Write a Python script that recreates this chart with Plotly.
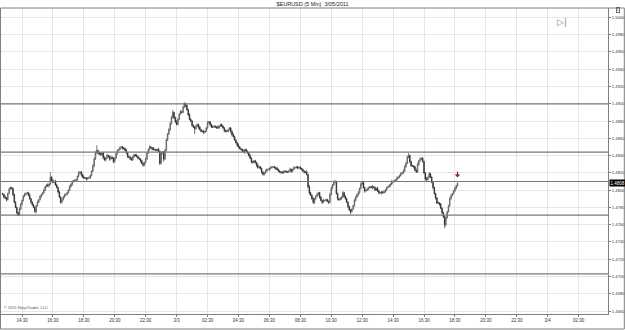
import pandas as pd
import plotly.graph_objects as go

# ---------------- data ----------------
TITLE = "$EURUSD (5 Min)  3/05/2011"
FIRST_BAR = "2011-03-02 13:15"
BAR_FREQ = "5min"
BASE_PRICE = 1.4800          # close values below are pips relative to this price
PIP = 0.0001

first_open_pips = -4
close_pips = [
    -5, -8, -9, -11, -4, 1, 3, 2, -5, -14,
    -20, -26, -29, -22, -16, -12, -7, -5, -4, -3,
    -6, -10, -14, -17, -20, -25, -18, -14, -11, -7,
    -5, -3, 0, 4, 6, 5, 7, 15, 11, 9,
    10, 6, 3, -2, -8, -14, -11, -8, -5, -5,
    -3, 0, 4, 7, 10, 11, 11, 12, 16, 20,
    21, 18, 15, 14, 14, 13, 14, 14, 17, 22,
    28, 36, 43, 46, 43, 42, 41, 43, 38, 35,
    37, 40, 39, 36, 38, 37, 33, 37, 42, 46,
    47, 49, 50, 49, 48, 46, 43, 39, 38, 36,
    35, 39, 41, 40, 39, 37, 36, 34, 31, 29,
    32, 36, 43, 47, 50, 49, 48, 47, 47, 46,
    47, 45, 31, 43, 44, 36, 46, 58, 65, 70,
    77, 84, 90, 84, 79, 76, 82, 88, 91, 90,
    96, 100, 98, 93, 87, 82, 80, 75, 73, 71,
    74, 76, 73, 70, 68, 68, 67, 68, 72, 78,
    79, 76, 73, 73, 74, 73, 73, 72, 74, 76,
    74, 72, 69, 68, 68, 70, 72, 68, 64,
    62, 58, 55, 52, 50, 48, 47, 45, 44, 47,
    45, 43, 40, 37, 33, 32, 34, 32, 29, 26,
    27, 25, 21, 18, 20, 22, 24, 24, 25, 26,
    27, 27, 26, 25, 24, 22, 21, 21, 20, 21,
    22, 21, 21, 22, 24, 22, 24, 26, 26, 27,
    26, 26, 25, 24, 22, 21, 21, 18, 4, -3,
    -6, -10, -14, -10, -7, -5, -3, -8, -12, -14,
    -12, -12, -11, -13, -14, -5, 2, 6, 9, 10,
    -4, -10, -11, -10, -8, -3, -7, -10, -14,
    -19, -23, -25, -22, -18, -12, -8, -5, -3, 2,
    7, 9, 3, -1, 0, 1, 3, 4, 3, 4,
    3, 0, 2, -1, -3, -3, -2, -3, -2, 0,
    3, 4, 5, 7, 10, 10, 11, 12, 14, 15,
    17, 19, 20, 22, 27, 31, 38, 40, 33, 28,
    28, 27, 23, 21, 30, 34, 36, 37, 33, 20,
    13, 12, 15, 19, 15, 9, 3, -4, -9, -15,
    -15, -16, -21, -26, -31, -40, -32, -25, -18, -10,
    -6, -4, -1, 2, 5, 8,
]
# upper / lower wick length of each bar, in pips beyond the body
wick_up_pips = [
    1, 1, 2, 1, 1, 2, 1, 1, 1, 1,   1, 1, 1, 2, 1, 1, 1, 2, 1, 1,
    1, 2, 1, 1, 1, 1, 1, 2, 1, 1,   1, 1, 2, 1, 1, 2, 1, 6, 1, 2,
    1, 2, 1, 1, 1, 1, 2, 1, 1, 1,   1, 1, 2, 1, 1, 1, 2, 1, 1, 2,
    1, 1, 1, 2, 1, 1, 1, 2, 1, 1,   2, 2, 2, 6, 1, 1, 2, 1, 1, 1,
    1, 2, 1, 1, 2, 1, 1, 1, 2, 1,   1, 2, 1, 1, 1, 1, 2, 1, 1, 1,
    2, 1, 1, 1, 2, 1, 1, 1, 1, 1,   1, 2, 1, 1, 2, 1, 1, 2, 1, 1,
    1, 2, 1, 1, 1, 1, 2, 2, 1, 2,   2, 2, 3, 1, 1, 2, 2, 1, 2, 1,
    2, 2, 1, 1, 1, 2, 1, 1, 1, 1,   2, 1, 1, 1, 1, 1, 2, 1, 1, 2,
    1, 1, 1, 2, 1, 1, 1, 2, 1, 1,   1, 1, 1, 1, 2, 1, 1, 1, 1, 2,
    1, 1, 1, 2, 1, 1, 1, 2, 1, 1,   1, 1, 2, 1, 1, 1, 1, 1, 2, 1,
    1, 1, 1, 1, 2, 1, 1, 1, 2, 1,   1, 1, 1, 2, 1, 1, 1, 1, 2, 1,
    1, 1, 1, 2, 1, 1, 2, 1, 1, 1,   1, 2, 1, 1, 1, 1, 2, 1, 2, 1,
    1, 2, 1, 1, 2, 1, 1, 1, 1, 2,   1, 1, 1, 1, 2, 2, 1, 2, 2, 1,
    1, 1, 2, 1, 2, 1, 1, 1, 1, 1,   1, 1, 1, 2, 1, 1, 2, 1, 2, 2,
    1, 1, 1, 2, 1, 1, 1, 2, 1, 1,   1, 2, 1, 1, 1, 1, 2, 1, 1, 1,
    2, 1, 2, 1, 1, 1, 2, 1, 1, 2,   1, 2, 2, 2, 2, 3, 1, 1, 1, 1,
    1, 2, 2, 1, 2, 1, 1, 1, 1, 2,   1, 2, 1, 1, 1, 1, 1, 1, 2, 1,
    1, 1, 1, 1, 2, 1, 1, 2, 1, 1,   1, 2, 1, 1,
]
wick_dn_pips = [
    1, 2, 1, 2, 1, 1, 1, 1, 2, 1,   1, 2, 1, 1, 1, 2, 1, 1, 1, 1,
    1, 1, 2, 1, 1, 1, 2, 1, 1, 1,   2, 1, 1, 1, 1, 1, 2, 1, 1, 1,
    1, 1, 1, 2, 1, 2, 1, 1, 1, 2,   1, 1, 1, 1, 2, 1, 1, 1, 1, 1,
    1, 2, 1, 1, 1, 2, 1, 1, 1, 1,   1, 1, 1, 1, 2, 1, 1, 1, 2, 1,
    2, 1, 1, 2, 1, 1, 2, 1, 1, 1,   1, 1, 1, 2, 1, 1, 1, 2, 1, 1,
    1, 1, 2, 1, 1, 1, 1, 2, 1, 2,   1, 1, 1, 1, 1, 1, 2, 1, 1, 1,
    1, 1, 2, 1, 1, 3, 1, 1, 1, 1,   1, 1, 1, 2, 1, 1, 1, 1, 1, 1,
    1, 1, 2, 1, 1, 1, 1, 2, 1, 6,   1, 1, 2, 1, 1, 1, 2, 1, 1, 1,
    1, 2, 1, 1, 1, 1, 2, 1, 1, 1,   1, 1, 2, 1, 1, 1, 1, 2, 2, 1,
    1, 1, 2, 1, 1, 1, 1, 1, 2, 1,   1, 1, 1, 2, 1, 1, 1, 2, 1, 1,
    1, 2, 1, 1, 1, 1, 1, 2, 1, 1,   1, 1, 2, 1, 1, 1, 2, 1, 1, 1,
    1, 1, 1, 1, 2, 1, 1, 1, 1, 2,   1, 1, 1, 1, 2, 1, 1, 2, 2, 1,
    1, 2, 2, 1, 1, 1, 2, 1, 2, 1,   1, 1, 1, 2, 1, 1, 1, 1, 1, 1,
    2, 1, 1, 1, 1, 2, 1, 1, 2, 1,   3, 1, 1, 1, 1, 1, 2, 1, 1, 1,
    1, 2, 1, 1, 1, 1, 1, 2, 1, 1,   1, 1, 2, 1, 2, 1, 1, 1, 1, 1,
    1, 1, 1, 2, 1, 1, 1, 1, 1, 1,   1, 1, 1, 1, 1, 1, 2, 1, 1, 2,
    1, 1, 1, 2, 1, 1, 1, 1, 2, 1,   1, 1, 1, 1, 2, 1, 2, 1, 1, 2,
    1, 2, 1, 4, 2, 1, 1, 1, 1, 1,   1, 1, 1, 1,
]

drawn_line_prices = [1.4900, 1.4844, 1.4810, 1.4771, 1.4703]
signal_arrow_price = 1.4815

y_tick_values = [1.4660, 1.4680, 1.4700, 1.4720, 1.4740, 1.4760, 1.4780, 1.4800,
                 1.4820, 1.4840, 1.4860, 1.4880, 1.4900, 1.4920, 1.4940, 1.4960,
                 1.4980, 1.5000]
x_tick_times = ["2011-03-02 14:30", "2011-03-02 16:30", "2011-03-02 18:30",
                "2011-03-02 20:30", "2011-03-02 22:30", "2011-03-03 00:30",
                "2011-03-03 02:30", "2011-03-03 04:30", "2011-03-03 06:30",
                "2011-03-03 08:30", "2011-03-03 10:30", "2011-03-03 12:30",
                "2011-03-03 14:30", "2011-03-03 16:30", "2011-03-03 18:30",
                "2011-03-03 20:30", "2011-03-03 22:30", "2011-03-04 00:30",
                "2011-03-04 02:30"]
x_tick_labels = ["14:30", "16:30", "18:30", "20:30", "22:30", "3/3", "02:30",
                 "04:30", "06:30", "08:30", "10:30", "12:30", "14:30", "16:30",
                 "18:30", "20:30", "22:30", "3/4", "02:30"]
x_range = ["2011-03-02 13:08:30", "2011-03-04 04:24"]
y_range = [1.46566, 1.50109]

# ---------------- build OHLC ----------------
times = pd.date_range(FIRST_BAR, periods=len(close_pips), freq=BAR_FREQ)
closes = [round(BASE_PRICE + p * PIP, 4) for p in close_pips]
opens = [round(BASE_PRICE + first_open_pips * PIP, 4)] + closes[:-1]
highs = [max(o, c) + w * PIP for o, c, w in zip(opens, closes, wick_up_pips)]
lows = [min(o, c) - w * PIP for o, c, w in zip(opens, closes, wick_dn_pips)]

FONT = "Liberation Sans, Arial, sans-serif"
AX = "#7f7f7f"
GRID = "#e6e6e6"

fig = go.Figure(go.Candlestick(
    x=times, open=opens, high=highs, low=lows, close=closes,
    increasing=dict(line=dict(color="#505050", width=0.7), fillcolor="#bdbdbd"),
    decreasing=dict(line=dict(color="#262626", width=0.7), fillcolor="#262626"),
    whiskerwidth=0, showlegend=False, hoverinfo="skip",
))

# plot box in pixels: x 1..607.7, y 8..314
W, H = 606.7, 306.0
def px_x(p):
    return (p - 1) / W
def px_y(p):
    return (314 - p) / H

shapes = []
for price in drawn_line_prices:
    shapes.append(dict(type="line", xref="paper", x0=0, x1=1, yref="y",
                       y0=price, y1=price, line=dict(color="#77778a", width=1.2)))
# outer frame of the chart window
shapes.append(dict(type="rect", xref="paper", yref="paper",
                   x0=px_x(0.5), x1=px_x(624), y0=px_y(329), y1=1,
                   line=dict(color=AX, width=1)))

annotations = [
    dict(text=f"{closes[-1]:.4f}", xref="paper", x=1, xanchor="left", xshift=1,
         yref="y", y=closes[-1], showarrow=False, bgcolor="black",
         font=dict(color="white", size=4.5, family=FONT), borderpad=0.5),
    dict(text="© 2011 NinjaTrader, LLC", xref="paper", x=px_x(2), xanchor="left",
         yref="paper", y=px_y(312), yanchor="bottom", showarrow=False,
         font=dict(color="#555555", size=4, family=FONT)),
    dict(text="▷|", xref="paper", x=px_x(569), yref="paper", y=px_y(15),
         showarrow=False, font=dict(color="#8a8a8a", size=9, family="DejaVu Sans")),
    dict(text="1", xref="paper", x=px_x(620), yref="paper", y=px_y(10.5),
         yanchor="middle", showarrow=False,
         font=dict(color="#444444", size=3.5, family=FONT),
         bordercolor="#555555", borderwidth=0.8, borderpad=0),
    dict(x=times[-1], y=signal_arrow_price, xref="x", yref="y", text="",
         showarrow=True, ax=0, ay=-7, arrowhead=1, arrowsize=0.7, arrowwidth=1.3,
         arrowcolor="#9a1515", standoff=0),
]

fig.update_layout(
    width=625, height=330,
    margin=dict(l=1, r=17.3, t=8, b=16),
    paper_bgcolor="white", plot_bgcolor="white",
    title=dict(text=TITLE, x=0.5, xref="container", y=1 - 4 / 330,
               yref="container", xanchor="center", yanchor="middle",
               font=dict(size=5.5, color="#222222", family=FONT)),
    font=dict(family=FONT, color="#333333"),
    shapes=shapes, annotations=annotations,
    xaxis=dict(type="date", range=x_range, tickvals=x_tick_times,
               ticktext=x_tick_labels, tickfont=dict(size=4.5),
               showgrid=True, gridcolor=GRID, gridwidth=1,
               showline=True, linecolor=AX, linewidth=1, mirror=False,
               ticks="outside", ticklen=2, tickcolor=AX,
               rangeslider=dict(visible=False), zeroline=False, fixedrange=True),
    yaxis=dict(side="right", range=y_range, tickvals=y_tick_values,
               ticktext=[f"{v:.4f}" for v in y_tick_values],
               tickfont=dict(size=4.2), showgrid=True, gridcolor=GRID, gridwidth=1,
               showline=True, linecolor=AX, linewidth=1, mirror=False,
               ticks="outside", ticklen=2, tickcolor=AX, zeroline=False,
               fixedrange=True),
)

fig.write_html("out.html")
